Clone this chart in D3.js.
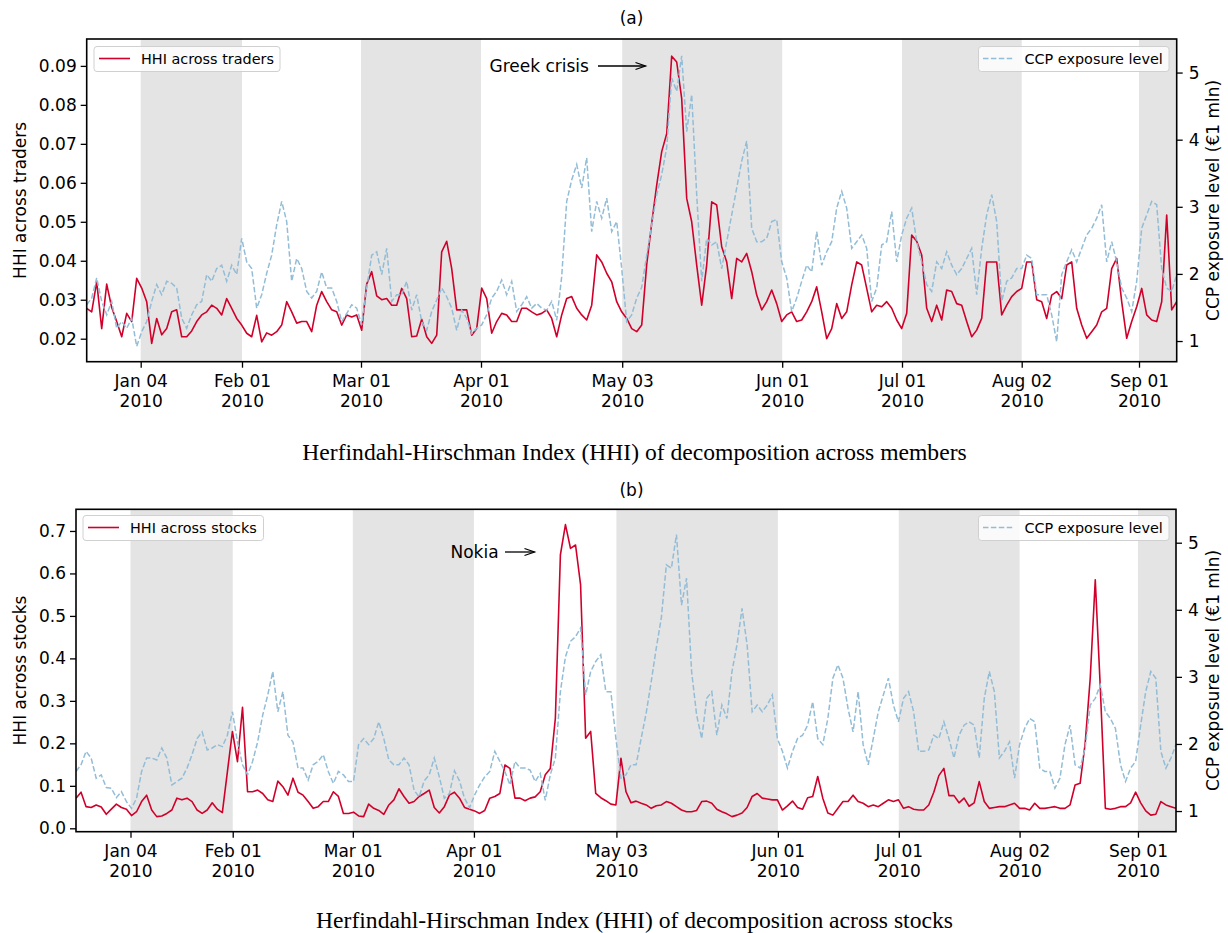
<!DOCTYPE html>
<html><head><meta charset="utf-8">
<script src="https://cdn.jsdelivr.net/npm/d3@7"></script>
<style>
body{margin:0;background:#fff}
svg{display:block}
text{font-family:"DejaVu Sans",sans-serif;fill:#000}
</style>
</head><body>
<svg id="c" width="1228" height="933"></svg>
<script>
// ---- x axis (observation index) ----
const xTickIdx = [10.8, 31.06, 54.86, 78.86, 107.1, 139.1, 163.06, 187, 210.46];
const xTickLabels = ["Jan 04","Feb 01","Mar 01","Apr 01","May 03","Jun 01","Jul 01","Aug 02","Sep 01"];
const xTickYear = "2010";
const xEndIdx = 218;

// ---- panel (a): HHI across traders & CCP exposure ----
const hhiTraders = [
0.0278,0.0269,0.0346,0.0226,0.034,0.028,0.0244,0.0205,0.0265,0.0244,
0.0355,0.033,0.0295,0.0188,0.0252,0.021,0.0226,0.0269,0.0274,0.0205,
0.0205,0.022,0.0244,0.0261,0.0269,0.0286,0.0278,0.0261,0.0303,0.0278,
0.0252,0.0235,0.0214,0.0205,0.026,0.0192,0.0215,0.0209,0.0218,0.0235,
0.0295,0.0269,0.024,0.0244,0.0244,0.0218,0.0286,0.0321,0.0295,0.0274,
0.0269,0.0235,0.0261,0.0256,0.0261,0.0222,0.034,0.0372,0.031,0.03,
0.0303,0.0286,0.0286,0.0329,0.0303,0.0205,0.0207,0.025,0.0205,0.0188,
0.0209,0.0423,0.045,0.038,0.0274,0.0274,0.0274,0.0209,0.0226,0.033,
0.0303,0.0214,0.0244,0.0265,0.0261,0.0244,0.0244,0.0278,0.0278,0.0269,
0.0261,0.0265,0.0274,0.0252,0.0205,0.0261,0.0303,0.0308,0.0278,0.0261,
0.0248,0.0286,0.0415,0.0397,0.0368,0.0346,0.0295,0.0269,0.0252,0.0226,
0.0218,0.0235,0.039,0.0496,0.0594,0.068,0.0726,0.0925,0.091,0.0816,
0.056,0.05,0.0389,0.0286,0.0389,0.0551,0.0543,0.0436,0.0397,0.0303,
0.0406,0.0397,0.0419,0.0372,0.0312,0.0274,0.0295,0.0325,0.029,0.0244,
0.0261,0.0269,0.0244,0.0248,0.0269,0.0295,0.0333,0.0269,0.02,0.0226,
0.029,0.0252,0.0269,0.0338,0.0397,0.0389,0.0329,0.0269,0.0286,0.0282,
0.0295,0.0278,0.0248,0.0226,0.0265,0.0466,0.045,0.0415,0.0278,0.0244,
0.0286,0.0248,0.0325,0.0321,0.029,0.0286,0.0244,0.0205,0.0222,0.0252,
0.0397,0.0397,0.0397,0.0261,0.0286,0.0308,0.0321,0.0329,0.0397,0.0397,
0.03,0.0295,0.0252,0.0312,0.0321,0.0303,0.0389,0.0397,0.0278,0.0235,
0.0201,0.0218,0.0235,0.0269,0.0278,0.038,0.0406,0.0295,0.0201,0.0244,
0.0282,0.0329,0.0261,0.0248,0.0244,0.0295,0.0517,0.0274,0.0295];
const ccpA = [
1.54,1.64,1.94,1.59,1.39,1.59,1.19,1.29,1.19,1.34,
0.92,1.14,1.29,1.59,1.84,1.69,1.89,1.86,1.79,1.34,
1.19,1.39,1.54,1.59,1.99,1.89,2.08,2.13,1.89,2.13,
1.99,2.53,2.18,2.08,1.49,1.69,2.01,2.28,2.73,3.08,
2.78,1.89,2.23,2.08,1.74,1.64,1.74,2.03,1.79,1.79,
1.59,1.29,1.41,1.54,1.49,1.24,1.79,2.28,2.33,1.99,
2.38,1.59,1.69,1.69,1.89,1.46,1.69,1.29,1.16,1.44,
1.61,1.79,1.66,1.49,1.16,1.46,1.34,1.11,1.19,1.24,
1.39,1.64,1.74,1.91,1.69,1.89,1.44,1.54,1.66,1.49,
1.56,1.49,1.46,1.59,1.31,1.96,3.08,3.40,3.63,3.28,
3.73,2.63,3.08,2.83,3.13,2.63,2.78,2.08,1.29,1.39,
1.64,1.8,2.28,2.73,3.18,3.48,3.88,4.92,4.72,5.25,
4.12,4.67,3.18,1.89,2.53,2.43,2.48,2.08,2.48,2.88,
3.28,3.68,3.98,2.68,2.48,2.48,2.53,2.78,2.81,2.18,
1.94,1.44,1.64,1.89,2.13,2.03,2.63,2.13,2.33,2.48,
2.98,3.23,2.98,2.38,2.48,2.58,2.38,1.59,1.79,2.43,
2.48,2.93,2.18,2.58,2.83,2.98,2.48,2.18,1.84,1.74,
2.18,2.08,2.33,2.13,1.99,2.08,2.23,2.38,1.69,2.38,
2.88,3.18,2.78,1.59,1.89,1.94,2.08,2.08,2.28,2.23,
1.69,1.69,1.69,1.39,0.99,1.99,2.18,2.36,2.18,2.38,
2.58,2.68,2.83,3.03,2.18,2.48,2.18,1.79,1.64,1.44,
1.89,2.68,2.88,3.08,3.03,2.08,1.79,1.74,1.99];

// ---- panel (b): HHI across stocks & CCP exposure ----
const hhiStocks = [
0.071,0.085,0.051,0.049,0.055,0.05,0.033,0.045,0.057,0.049,
0.045,0.03,0.039,0.063,0.078,0.043,0.0275,0.029,0.035,0.043,
0.071,0.067,0.071,0.063,0.043,0.035,0.043,0.06,0.045,0.037,
0.133,0.228,0.157,0.285,0.086,0.086,0.09,0.082,0.067,0.063,
0.111,0.098,0.078,0.118,0.085,0.078,0.063,0.047,0.051,0.063,
0.063,0.086,0.075,0.035,0.035,0.038,0.029,0.0275,0.057,0.047,
0.042,0.033,0.055,0.067,0.093,0.075,0.059,0.063,0.075,0.082,
0.09,0.049,0.036,0.051,0.078,0.085,0.071,0.049,0.045,0.041,
0.035,0.042,0.071,0.075,0.082,0.149,0.141,0.071,0.071,0.065,
0.071,0.074,0.086,0.126,0.141,0.259,0.644,0.715,0.659,0.667,
0.573,0.212,0.228,0.082,0.072,0.065,0.057,0.055,0.165,0.086,
0.06,0.064,0.059,0.055,0.047,0.053,0.055,0.063,0.059,0.051,
0.043,0.039,0.039,0.042,0.063,0.064,0.059,0.045,0.039,0.034,
0.0275,0.031,0.036,0.049,0.075,0.082,0.071,0.069,0.067,0.067,
0.043,0.053,0.064,0.049,0.045,0.072,0.075,0.122,0.071,0.036,
0.031,0.047,0.063,0.063,0.078,0.063,0.059,0.051,0.055,0.051,
0.059,0.067,0.063,0.067,0.047,0.051,0.045,0.043,0.043,0.055,
0.085,0.124,0.141,0.077,0.077,0.06,0.071,0.052,0.06,0.11,
0.063,0.047,0.049,0.051,0.051,0.055,0.059,0.047,0.047,0.043,
0.059,0.047,0.047,0.049,0.051,0.047,0.047,0.055,0.102,0.106,
0.2,0.353,0.585,0.33,0.047,0.045,0.047,0.051,0.051,0.06,
0.085,0.06,0.041,0.031,0.033,0.063,0.055,0.051,0.047];
const ccpB = [
1.59,1.69,1.89,1.79,1.49,1.54,1.35,1.34,1.2,1.29,
1.14,1.04,1.19,1.59,1.79,1.79,1.76,1.94,1.79,1.39,
1.44,1.49,1.64,1.84,2.08,2.18,1.91,1.94,1.99,1.96,
2.13,2.48,2.03,1.69,1.54,1.74,2.03,2.43,2.73,3.08,
2.48,2.78,2.13,2.03,1.64,1.64,1.46,1.69,1.74,1.84,
1.59,1.41,1.59,1.54,1.44,1.44,1.99,2.08,1.99,2.08,
2.33,2.08,1.76,1.69,1.69,1.79,1.69,1.31,1.21,1.45,
1.54,1.79,1.51,1.19,1.26,1.6,1.45,1.19,1.05,1.24,
1.39,1.51,1.59,1.89,1.74,1.59,1.39,1.74,1.64,1.64,
1.61,1.44,1.56,1.16,1.54,1.79,2.78,3.3,3.53,3.6,
3.73,2.73,3.08,3.23,3.33,2.78,2.78,2.08,1.49,1.54,
1.69,1.69,2.08,2.46,2.93,3.43,3.88,4.67,4.62,5.12,
4.07,4.47,3.08,2.43,2.08,2.68,2.78,2.13,2.58,2.38,
3.08,3.48,4.02,3.48,2.48,2.58,2.48,2.58,2.73,2.08,
1.89,1.64,1.89,2.08,2.13,2.28,2.63,2.08,1.99,2.38,
2.98,3.18,2.98,2.53,2.18,2.78,1.99,1.69,2.08,2.48,
2.73,2.98,2.58,2.33,2.68,2.78,2.48,1.89,1.89,1.91,
2.13,2.08,2.33,2.08,1.79,2.13,2.28,2.33,2.28,1.79,
2.68,3.08,2.78,1.79,1.89,2.03,1.49,1.99,2.23,2.38,
2.33,1.64,1.59,1.59,1.34,1.49,1.99,2.28,1.69,1.64,
1.94,2.58,2.68,2.88,2.48,2.38,2.23,1.69,1.44,1.64,
1.74,2.28,2.78,3.08,2.98,1.89,1.64,1.79,1.99];

const ccpTicks = [1,2,3,4,5];
const hhiTradersTicks = [0.02,0.03,0.04,0.05,0.06,0.07,0.08,0.09];
const hhiStocksTicks = [0.0,0.1,0.2,0.3,0.4,0.5,0.6,0.7];

const RED = "#d0002a", BLUE = "#93bdd6", SHADE = "#e4e4e4";
const svg = d3.select("#c");

function drawPanel(cfg) {
  const g = svg.append("g");
  const x = d3.scaleLinear().domain([0, xEndIdx]).range([cfg.left, cfg.right]);
  const y = d3.scaleLinear().domain(cfg.yDom).range([cfg.bottom, cfg.top]);
  const y2 = d3.scaleLinear().domain(cfg.y2Dom).range([cfg.bottom, cfg.top]);

  // shaded alternating months
  const spans = [];
  for (let k = 0; k < xTickIdx.length; k += 2)
    spans.push([xTickIdx[k], k + 1 < xTickIdx.length ? xTickIdx[k + 1] : xEndIdx]);
  g.selectAll("rect.shade").data(spans).join("rect")
    .attr("x", d => x(d[0])).attr("width", d => x(d[1]) - x(d[0]))
    .attr("y", cfg.top).attr("height", cfg.bottom - cfg.top)
    .attr("fill", SHADE);

  const clipId = "clip" + cfg.id;
  svg.append("clipPath").attr("id", clipId).append("rect")
    .attr("x", cfg.left).attr("y", cfg.top)
    .attr("width", cfg.right - cfg.left).attr("height", cfg.bottom - cfg.top);

  const lineH = d3.line().x((d, i) => x(i)).y(d => y(d));
  const lineC = d3.line().x((d, i) => x(i)).y(d => y2(d));
  g.append("path").datum(cfg.hhi).attr("d", lineH)
    .attr("fill", "none").attr("stroke", RED).attr("stroke-width", 1.6)
    .attr("stroke-linejoin", "round").attr("clip-path", `url(#${clipId})`);

  // legend (left, HHI)
  const lg = g.append("g");
  lg.append("rect").attr("x", cfg.legL[0]).attr("y", cfg.legL[1]).attr("width", cfg.legL[2]).attr("height", 25)
    .attr("rx", 3).attr("fill", "#fff").attr("fill-opacity", 0.8).attr("stroke", "#d0d0d0").attr("stroke-width", 1);
  lg.append("line").attr("x1", cfg.legL[0] + 5).attr("x2", cfg.legL[0] + 36)
    .attr("y1", cfg.legL[1] + 12).attr("y2", cfg.legL[1] + 12).attr("stroke", RED).attr("stroke-width", 1.6);
  lg.append("text").attr("x", cfg.legL[0] + 47).attr("y", cfg.legL[1] + 17.5)
    .style("font-size", "14.4px").text(cfg.legendText);

  g.append("path").datum(cfg.ccp).attr("d", lineC)
    .attr("fill", "none").attr("stroke", BLUE).attr("stroke-width", 1.5)
    .attr("stroke-dasharray", "5.5,2.4").attr("clip-path", `url(#${clipId})`);

  // legend (right, CCP)
  const rg = g.append("g");
  rg.append("rect").attr("x", 978.5).attr("y", cfg.legL[1]).attr("width", 190.5).attr("height", 25)
    .attr("rx", 3).attr("fill", "#fff").attr("fill-opacity", 0.8).attr("stroke", "#d0d0d0").attr("stroke-width", 1);
  rg.append("line").attr("x1", 983).attr("x2", 1014)
    .attr("y1", cfg.legL[1] + 12).attr("y2", cfg.legL[1] + 12).attr("stroke", BLUE)
    .attr("stroke-width", 1.5).attr("stroke-dasharray", "5.5,2.4");
  rg.append("text").attr("x", 1024.5).attr("y", cfg.legL[1] + 17.5)
    .style("font-size", "14.4px").text("CCP exposure level");

  // frame
  g.append("rect").attr("x", cfg.left).attr("y", cfg.top)
    .attr("width", cfg.right - cfg.left).attr("height", cfg.bottom - cfg.top)
    .attr("fill", "none").attr("stroke", "#000").attr("stroke-width", 1.6);

  // axes
  const styleAxis = sel => {
    sel.select(".domain").remove();
    sel.selectAll(".tick line").attr("stroke", "#000").attr("stroke-width", 1.3);
    sel.selectAll(".tick text").style("font-size", "17px").style("font-family", "DejaVu Sans");
  };
  g.append("g").attr("transform", `translate(${cfg.left},0)`)
    .call(d3.axisLeft(y).tickValues(cfg.yTicks).tickFormat(d3.format(cfg.yFmt)).tickSize(6).tickPadding(4))
    .call(styleAxis);
  g.append("g").attr("transform", `translate(${cfg.right},0)`)
    .call(d3.axisRight(y2).tickValues(ccpTicks).tickFormat(d3.format("d")).tickSize(6).tickPadding(6))
    .call(styleAxis);
  const xa = g.append("g").attr("transform", `translate(0,${cfg.bottom})`)
    .call(d3.axisBottom(x).tickValues(xTickIdx).tickFormat((d, i) => xTickLabels[i]).tickSize(6))
    .call(styleAxis);
  xa.selectAll(".tick text").each(function(d, i) {
    const t = d3.select(this);
    t.text(null).attr("y", 0).attr("dy", null);
    t.append("tspan").attr("x", 0).attr("y", 25.5).text(xTickLabels[i]);
    t.append("tspan").attr("x", 0).attr("y", 45.5).text(xTickYear);
  });

  // axis labels
  const cy = (cfg.top + cfg.bottom) / 2;
  g.append("text").attr("transform", `translate(26,${cy}) rotate(-90)`)
    .attr("text-anchor", "middle").style("font-size", "17px").text(cfg.yLabel);
  g.append("text").attr("transform", `translate(1219,${cy}) rotate(-90)`)
    .attr("text-anchor", "middle").style("font-size", "17px").text("CCP exposure level (€1 mln)");

  // title and caption
  g.append("text").attr("x", 631.5).attr("y", cfg.titleY).attr("text-anchor", "middle")
    .style("font-size", "17px").text(cfg.title);
  g.append("text").attr("x", 634.5).attr("y", cfg.captionY).attr("text-anchor", "middle")
    .style("font-family", "'Liberation Serif','Times New Roman',serif").style("font-size", "23.6px")
    .text(cfg.caption);

  // annotation
  const a = cfg.annot;
  g.append("text").attr("x", a.tx).attr("y", a.ty).style("font-size", "17px").text(a.text);
  g.append("line").attr("x1", a.ax1).attr("x2", a.ax2).attr("y1", a.ay).attr("y2", a.ay)
    .attr("stroke", "#000").attr("stroke-width", 1.3);
  g.append("path").attr("d", `M${a.ax2 - 10},${a.ay - 3.5}L${a.ax2},${a.ay}L${a.ax2 - 10},${a.ay + 3.5}`)
    .attr("fill", "none").attr("stroke", "#000").attr("stroke-width", 1.3);
}

drawPanel({
  id: "a", left: 86.7, right: 1176.7, top: 39, bottom: 361.7,
  hhi: hhiTraders, ccp: ccpA,
  yDom: [0.0141, 0.0969], y2Dom: [0.692, 5.50],
  yTicks: hhiTradersTicks, yFmt: ".2f",
  yLabel: "HHI across traders", legendText: "HHI across traders",
  legL: [94, 46.5, 186],
  title: "(a)", titleY: 24,
  caption: "Herfindahl-Hirschman Index (HHI) of decomposition across members", captionY: 460,
  annot: {text: "Greek crisis", tx: 489.5, ty: 72, ax1: 598, ax2: 645.5, ay: 66}
});
drawPanel({
  id: "b", left: 76, right: 1176, top: 509.3, bottom: 831.7,
  hhi: hhiStocks, ccp: ccpB,
  yDom: [-0.008, 0.751], y2Dom: [0.692, 5.498],
  yTicks: hhiStocksTicks, yFmt: ".1f",
  yLabel: "HHI across stocks", legendText: "HHI across stocks",
  legL: [83, 515.5, 180.5],
  title: "(b)", titleY: 496,
  caption: "Herfindahl-Hirschman Index (HHI) of decomposition across stocks", captionY: 928,
  annot: {text: "Nokia", tx: 450.5, ty: 558, ax1: 505, ax2: 534.5, ay: 552}
});
</script>
</body></html>
